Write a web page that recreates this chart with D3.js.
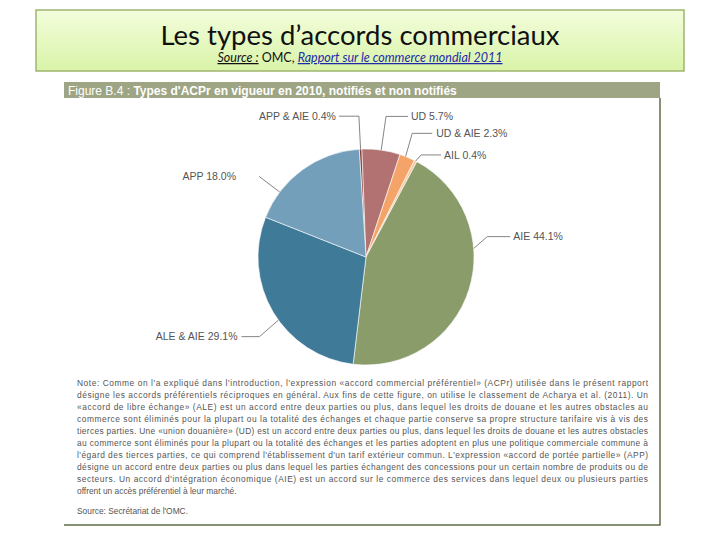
<!DOCTYPE html>
<html>
<head>
<meta charset="utf-8">
<script src="https://cdn.jsdelivr.net/npm/d3@7"></script>
<style>
  body { margin: 0; background: #fff; }
  svg { display: block; }
</style>
</head>
<body>
<div id="chart"></div>
<script>
// pie data, in drawing order (clockwise from the top)
var categories = ["APP & AIE", "UD", "UD & AIE", "AIL", "AIE", "ALE & AIE", "APP"];
var shares = [0.4, 5.7, 2.3, 0.4, 44.1, 29.1, 18.0];
var shareLabels = ["0.4%", "5.7%", "2.3%", "0.4%", "44.1%", "29.1%", "18.0%"];

var titleText = "Les types d\u2019accords commerciaux";
var figureTitle = "Types d'ACPr en vigueur en 2010, notifiés et non notifiés";
var noteLines = [
  "Note: Comme on l'a expliqué dans l'introduction, l'expression «accord commercial préférentiel» (ACPr) utilisée dans le présent rapport",
  "désigne les accords préférentiels réciproques en général. Aux fins de cette figure, on utilise le classement de Acharya et al. (2011). Un",
  "«accord de libre échange» (ALE) est un accord entre deux parties ou plus, dans lequel les droits de douane et les autres obstacles au",
  "commerce sont éliminés pour la plupart ou la totalité des échanges et chaque partie conserve sa propre structure tarifaire vis à vis des",
  "tierces parties. Une «union douanière» (UD) est un accord entre deux parties ou plus, dans lequel les droits de douane et les autres obstacles",
  "au commerce sont éliminés pour la plupart ou la totalité des échanges et les parties adoptent en plus une politique commerciale commune à",
  "l'égard des tierces parties, ce qui comprend l'établissement d'un tarif extérieur commun. L'expression «accord de portée partielle» (APP)",
  "désigne un accord entre deux parties ou plus dans lequel les parties échangent des concessions pour un certain nombre de produits ou de",
  "secteurs. Un accord d'intégration économique (AIE) est un accord sur le commerce des services dans lequel deux ou plusieurs parties",
  "offrent un accès préférentiel à leur marché."
];

var colors = ["#8e3e3e", "#b27272", "#f4a468", "#f7c9a2", "#8a9c6a", "#3f7b99", "#739fba"];

// leader line layout: attach / elbow angle offsets from slice middle (deg), elbow distance, horizontal length, text gap
var labelLayout = [
  {a: 0, e: 0, ext: 33, h: 20, gap: 3, side: -1},
  {a: 0, e: 0, ext: 34, h: 22, gap: 3, side: 1},
  {a: -1, e: -2, ext: 24, h: 20, gap: 4, side: 1},
  {a: 0, e: 1, ext: 8, h: 20, gap: 3, side: 1},
  {a: -22, e: -27, ext: 15, h: 23, gap: 3, side: 1},
  {a: -5, e: -6, ext: 25, h: 18, gap: 4, side: -1},
  {a: -17, e: -17, ext: 26, h: 0, gap: 23, side: -1}
];

var width = 720, height = 540;
var svg = d3.select("#chart").append("svg")
  .attr("width", width)
  .attr("height", height);

//title box with a soft green gradient
var defs = svg.append("defs");
var grad = defs.append("linearGradient")
  .attr("id", "titleGrad")
  .attr("x1", 0).attr("y1", 0).attr("x2", 0).attr("y2", 1);
grad.append("stop").attr("offset", "0%").attr("stop-color", "#f3fddc");
grad.append("stop").attr("offset", "100%").attr("stop-color", "#d9f4a8");

svg.append("rect")
  .attr("x", 36).attr("y", 10)
  .attr("width", 648).attr("height", 61)
  .attr("fill", "url(#titleGrad)")
  .attr("stroke", "#9fb56e")
  .attr("stroke-width", 1.5);

svg.append("text")
  .attr("x", 360).attr("y", 45)
  .attr("text-anchor", "middle")
  .attr("font-family", "Lato, 'Open Sans', sans-serif")
  .attr("font-size", 27.5)
  .attr("fill", "#111")
  .text(titleText);

var src = svg.append("text")
  .attr("x", 360).attr("y", 62)
  .attr("text-anchor", "middle")
  .attr("font-family", "Lato, 'Open Sans', sans-serif")
  .attr("font-size", 12.5)
  .attr("fill", "#111");
src.append("tspan").attr("font-style", "italic").attr("text-decoration", "underline").text("Source :");
src.append("tspan").text(" OMC, ");
src.append("tspan").attr("font-style", "italic").attr("text-decoration", "underline")
  .attr("fill", "#1f2aa8").text("Rapport sur le commerce mondial 2011");

//figure panel
var panel = {x: 64, y: 82, w: 596, h: 443};
svg.append("rect")
  .attr("x", panel.x).attr("y", panel.y)
  .attr("width", panel.w).attr("height", 16)
  .attr("fill", "#9ea584");

var ft = svg.append("text")
  .attr("x", 68).attr("y", 94.5)
  .attr("font-family", "'Liberation Sans', Arial, sans-serif")
  .attr("font-size", 12)
  .attr("fill", "#fff");
ft.append("tspan").text("Figure B.4 : ");
ft.append("tspan").attr("font-weight", "bold").text(figureTitle);

svg.append("path")
  .attr("d", "M" + (panel.x + panel.w) + "," + (panel.y + 16) + "V" + (panel.y + panel.h) + "H" + panel.x)
  .attr("fill", "none")
  .attr("stroke", "#5f6d45")
  .attr("stroke-width", 1.5);

//pie
var cx = 366, cy = 257, radius = 108;
var startA = -3.6 * Math.PI / 180;

var pie = d3.pie()
  .sort(null)
  .value(function(d){ return d; })
  .startAngle(startA)
  .endAngle(startA + 2 * Math.PI);

var arc = d3.arc().innerRadius(0).outerRadius(radius);

var arcs = pie(shares);

var g = svg.append("g").attr("transform", "translate(" + cx + "," + cy + ")");

g.selectAll("path.slice")
  .data(arcs)
  .enter()
  .append("path")
    .attr("class", "slice")
    .attr("d", arc)
    .attr("fill", function(d, i){ return colors[i]; })
    .attr("stroke", "#fff")
    .attr("stroke-width", 0.6);

//leader lines and labels
var deg = Math.PI / 180;
arcs.forEach(function(d, i){
  var lay = labelLayout[i];
  var mid = (d.startAngle + d.endAngle) / 2;
  var p0 = d3.pointRadial(mid + lay.a * deg, radius);
  var p1 = d3.pointRadial(mid + lay.e * deg, radius + lay.ext);
  var p2 = [p1[0] + lay.side * lay.h, p1[1]];

  g.append("path")
    .attr("d", "M" + p0 + "L" + p1 + "L" + p2)
    .attr("fill", "none")
    .attr("stroke", "#666")
    .attr("stroke-width", 0.8);

  g.append("text")
    .attr("x", p2[0] + lay.side * lay.gap)
    .attr("y", p2[1])
    .attr("dy", "0.35em")
    .attr("text-anchor", lay.side < 0 ? "end" : "start")
    .attr("font-family", "'Liberation Sans', Arial, sans-serif")
    .attr("font-size", 10.5)
    .attr("fill", "#555")
    .text(categories[i] + " " + shareLabels[i]);
});

//note text, justified
var noteX = 77, noteW = 571;
svg.selectAll("text.note")
  .data(noteLines)
  .enter()
  .append("text")
    .attr("class", "note")
    .attr("x", noteX)
    .attr("y", function(d, i){ return 386 + i * 12; })
    .attr("font-family", "'Liberation Sans', Arial, sans-serif")
    .attr("font-size", 8.4)
    .attr("fill", "#555")
    .each(function(d, i){
      if(i < noteLines.length - 1){
        d3.select(this).attr("textLength", noteW).attr("lengthAdjust", "spacing");
      }
    })
    .text(function(d){ return d; });

svg.append("text")
  .attr("x", noteX).attr("y", 514)
  .attr("font-family", "'Liberation Sans', Arial, sans-serif")
  .attr("font-size", 8.4)
  .attr("fill", "#555")
  .text("Source: Secrétariat de l'OMC.");
</script>
</body>
</html>
